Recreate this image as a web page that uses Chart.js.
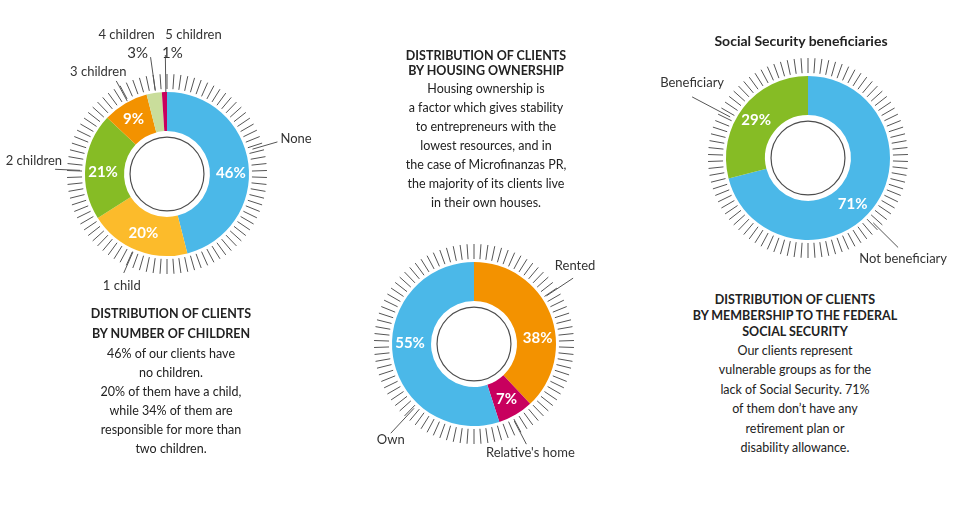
<!DOCTYPE html>
<html>
<head>
<meta charset="utf-8">
<script src="https://cdn.jsdelivr.net/npm/chart.js@4/dist/chart.umd.min.js"></script>
<style>
  body { margin:0; width:960px; height:507px; background:#fff; position:relative; overflow:hidden;
         font-family: Lato, "Open Sans", sans-serif; color:#222; }
  canvas { position:absolute; }
  .txt { position:absolute; text-align:center; }
  .txt .t { font-weight:700; font-size:12.5px; }
  .txt .b { font-size:12.5px; }
  #ssTitle { position:absolute; left:681px; width:240px; top:32px; text-align:center; font-size:14px; font-weight:700; color:#222; }
</style>
</head>
<body>
<canvas id="kids" width="340" height="300" style="left:-3px;top:24px"></canvas>
<canvas id="house" width="300" height="280" style="left:324px;top:204px"></canvas>
<canvas id="ss" width="320" height="260" style="left:648px;top:28px"></canvas>

<div id="ssTitle">Social Security beneficiaries</div>

<div class="txt" style="left:61px;width:220px;top:304px">
  <div class="t" style="line-height:20px">DISTRIBUTION OF CLIENTS<br>BY NUMBER OF CHILDREN</div>
  <div class="b" style="line-height:19px">46% of our clients have<br>no children.<br>20% of them have a child,<br>while 34% of them are<br>responsible for more than<br>two children.</div>
</div>

<div class="txt" style="left:376px;width:220px;top:48px">
  <div class="t" style="line-height:15px">DISTRIBUTION OF CLIENTS<br>BY HOUSING OWNERSHIP</div>
  <div class="b" style="line-height:19px;margin-top:1px">Housing ownership is<br>a factor which gives stability<br>to entrepreneurs with the<br>lowest resources, and in<br>the case of Microfinanzas PR,<br>the majority of its clients live<br>in their own houses.</div>
</div>

<div class="txt" style="left:675px;width:240px;top:292px">
  <div class="t" style="line-height:16px">DISTRIBUTION OF CLIENTS<br>BY MEMBERSHIP TO THE FEDERAL<br>SOCIAL SECURITY</div>
  <div class="b" style="line-height:19.4px;margin-top:1px">Our clients represent<br>vulnerable groups as for the<br>lack of Social Security. 71%<br>of them don’t have any<br>retirement plan or<br>disability allowance.</div>
</div>

<script>
// datos
const childLabels = ['None', '1 child', '2 children', '3 children', '4 children', '5 children'];
const childValues = [46, 20, 21, 9, 3, 1];

const housingLabels = ['Rented', "Relative's home", 'Own'];
const housingValues = [38, 7, 55];

const ssLabels = ['Not beneficiary', 'Beneficiary'];
const ssValues = [71, 29];

const BLUE = '#4bb8e8', YELLOW = '#fcbb2b', GREEN = '#86bc25', ORANGE = '#f39200',
      LIGHTGREEN = '#c9dd9b', MAGENTA = '#c8005e';

// layout of annotations: shift = degrees from the slice middle, r1/r2 = leader from R+r1 to R+r2
const childLayout = {
  inside: [6, 0, -4, -1, null, null],
  outside: [
    { shift: -9, r1: 7, r2: 33, dx: 3, dy: -3, align: 'left' },
    { shift: 2, r1: 3, r2: 26, dx: -2, dy: 13, align: 'center' },
    { shift: -3, r1: 5, r2: 30, dx: 7, dy: -8, align: 'right' },
    { shift: 2, r1: 1, r2: 24, dx: -18, dy: -9, align: 'center' },
    { shift: 1, r1: 2, r2: 36, dx: -24, dy: -22, align: 'center', pct: { dx: -13, dy: -4 } },
    { shift: 1, r1: 0, r2: 37, dx: 0, dy: -20, align: 'left', pct: { dx: 7, dy: -2 } }
  ]
};
const housingLayout = {
  inside: [16, 0, 10],
  outside: [
    { shift: -12, r1: 5, r2: 37, dx: 2, dy: -12, align: 'center' },
    { shift: 3, r1: 5, r2: 31, dx: 4, dy: 9, align: 'center' },
    { shift: -38, r1: 6, r2: 40, dx: 0, dy: 7, align: 'center' }
  ]
};
const ssLayout = {
  inside: [8, -2],
  outside: [
    { shift: 7, r1: 10, r2: 45, dx: 5, dy: 11, align: 'center' },
    { shift: -10, r1: 6, r2: 49, dx: 0, dy: -14, align: 'center' }
  ]
};

const deg = Math.PI / 180;

// ticks, inner ring, percentages and leader lines
const deco = {
  id: 'deco',
  afterDatasetsDraw(chart, args, opts) {
    const ctx = chart.ctx;
    const meta = chart.getDatasetMeta(0);
    const values = chart.data.datasets[0].data;
    const labels = chart.data.labels;
    const a0 = meta.data[0];
    const cx = a0.x, cy = a0.y, R = a0.outerRadius, r0 = a0.innerRadius;
    const pt = (a, r) => [cx + r * Math.cos(a), cy + r * Math.sin(a)];

    ctx.save();
    ctx.strokeStyle = '#555';
    ctx.lineWidth = 1;
    for (let i = 0; i < 90; i++) {
      const a = i * 4 * deg - Math.PI / 2;
      const p1 = pt(a, R + 3), p2 = pt(a, R + 18);
      ctx.beginPath(); ctx.moveTo(p1[0], p1[1]); ctx.lineTo(p2[0], p2[1]); ctx.stroke();
    }

    // circulo interior
    ctx.strokeStyle = '#4d4d4d';
    ctx.lineWidth = 1.2;
    ctx.beginPath(); ctx.arc(cx, cy, r0 - 6, 0, Math.PI * 2); ctx.stroke();

    ctx.textBaseline = 'middle';
    meta.data.forEach((arc, i) => {
      const mid = (arc.startAngle + arc.endAngle) / 2;
      const s = opts.inside[i];
      if (s !== null && s !== undefined) {
        const p = pt(mid + s * deg, (R + r0) / 2 + 1.5);
        ctx.fillStyle = '#fff';
        ctx.font = 'bold 15px Lato';
        ctx.textAlign = 'center';
        ctx.fillText(values[i] + '%', p[0], p[1]);
      }
      const o = opts.outside[i];
      const a = mid + o.shift * deg;
      const p1 = pt(a, R + o.r1), p2 = pt(a, R + o.r2);
      ctx.strokeStyle = '#555';
      ctx.lineWidth = 1;
      ctx.beginPath(); ctx.moveTo(p1[0], p1[1]); ctx.lineTo(p2[0], p2[1]); ctx.stroke();
      ctx.fillStyle = '#333';
      ctx.font = '13px Lato';
      ctx.textAlign = o.align;
      ctx.fillText(labels[i], p2[0] + o.dx, p2[1] + o.dy);
      if (o.pct) {
        ctx.font = '15px Lato';
        ctx.textAlign = 'center';
        ctx.fillText(values[i] + '%', p2[0] + o.pct.dx, p2[1] + o.pct.dy);
      }
    });
    ctx.restore();
  }
};

function makeDonut(id, labels, values, colors, layout) {
  return new Chart(document.getElementById(id), {
    type: 'doughnut',
    data: {
      labels: labels,
      datasets: [{ data: values, backgroundColor: colors, borderWidth: 0 }]
    },
    options: {
      responsive: false,
      animation: false,
      radius: 82,
      cutout: '52.4%',
      plugins: {
        legend: { display: false },
        tooltip: { enabled: false },
        deco: layout
      }
    },
    plugins: [deco]
  });
}

makeDonut('kids', childLabels, childValues, [BLUE, YELLOW, GREEN, ORANGE, LIGHTGREEN, MAGENTA], childLayout);
makeDonut('house', housingLabels, housingValues, [ORANGE, MAGENTA, BLUE], housingLayout);
makeDonut('ss', ssLabels, ssValues, [BLUE, GREEN], ssLayout);
</script>
</body>
</html>
